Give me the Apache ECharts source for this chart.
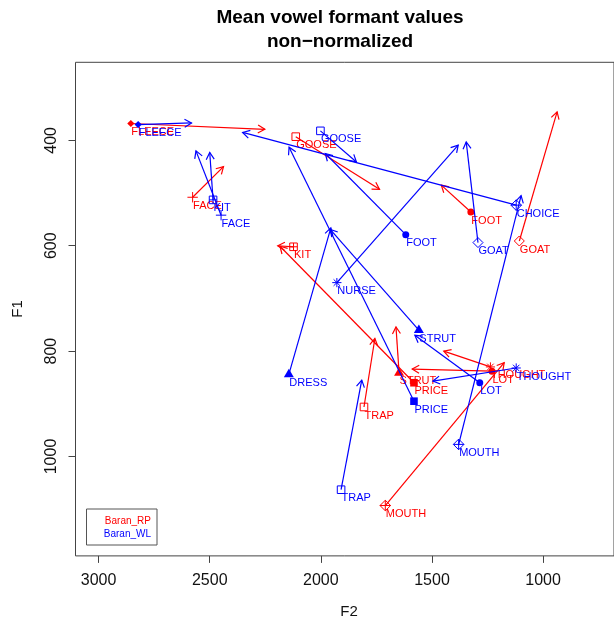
<!DOCTYPE html>
<html><head><meta charset="utf-8">
<script src="https://cdn.jsdelivr.net/npm/echarts@6/dist/echarts.min.js"></script>
<style>html,body{margin:0;padding:0;background:#fff}#c{width:614px;height:620px}</style>
</head><body><div id="c"></div>
<script>
// ---- data (F2 / F1 in Hz; start = vowel target, end = arrow head) ----
const vowelsRP   = ['FLEECE','FACE','KIT','GOOSE','FOOT','GOAT','STRUT','PRICE','TRAP','THOUGHT','LOT','MOUTH'];
const f2StartRP  = [2855, 2577, 2123, 2113, 1325, 1107, 1648, 1581, 1806, 1237, 1230, 1710];
const f1StartRP  = [ 368,  508,  602,  393,  536,  591,  841,  860,  906,  830,  838, 1093];
const f2EndRP    = [2252, 2438, 2194, 1736, 1458,  937, 1662, 2184, 1757, 1447, 1589, 1175];
const f1EndRP    = [ 379,  450,  600,  493,  485,  346,  754,  601,  776,  800,  834,  822];

const vowelsWL   = ['FLEECE','FACE','KIT','GOOSE','FOOT','GOAT','CHOICE','NURSE','STRUT','DRESS','PRICE','TRAP','THOUGHT','LOT','MOUTH'];
const f2StartWL  = [2822, 2449, 2485, 2002, 1618, 1293, 1121, 1928, 1559, 2144, 1581, 1909, 1121, 1285, 1380];
const f1StartWL  = [ 370,  542,  513,  382,  579,  594,  523,  670,  760,  844,  895, 1063,  832,  860,  977];
const f2EndWL    = [2582, 2562, 2500, 1840, 1980, 1346, 2352, 1382, 1958, 1955, 2143, 1816, 1496, 1577, 1099];
const f1EndWL    = [ 367,  420,  423,  441,  425,  403,  385,  409,  569,  566,  413,  855,  857,  770,  505];

const speakers   = ['Baran_RP', 'Baran_WL'];
const xTicks     = [1000, 1500, 2000, 2500, 3000];
const yTicks     = [400, 600, 800, 1000];

// ---- styling ----
const FONT = "'Liberation Sans', Arial, Helvetica, sans-serif";
const symbolOf = {FLEECE:'dfill', KIT:'sqplus', FACE:'plus', DRESS:'tri', TRAP:'sq', STRUT:'tri',
  PRICE:'sqfill', LOT:'circ', THOUGHT:'star', CHOICE:'dplus', GOAT:'diam', FOOT:'circ',
  GOOSE:'sq', NURSE:'star', MOUTH:'dplus'};

function line(x1,y1,x2,y2,c,w){return {type:'line',shape:{x1,y1,x2,y2},style:{stroke:c,lineWidth:w||1}};}
function symbolEls(kind,x,y,c){
  const st={stroke:c,lineWidth:1,fill:null}, fl={fill:c};
  let r;
  switch(kind){
    case 'dfill': r=3.6; return [{type:'polygon',shape:{points:[[x,y-r],[x+r,y],[x,y+r],[x-r,y]]},style:fl}];
    case 'sqplus': r=3.8; return [{type:'rect',shape:{x:x-r,y:y-r,width:2*r,height:2*r},style:st},
        line(x-r,y,x+r,y,c),line(x,y-r,x,y+r,c)];
    case 'plus': r=5.2; return [line(x-r,y,x+r,y,c),line(x,y-r,x,y+r,c)];
    case 'tri': return [{type:'polygon',shape:{points:[[x,y-5.5],[x+5,y+3],[x-5,y+3]]},style:fl}];
    case 'sq': r=3.8; return [{type:'rect',shape:{x:x-r,y:y-r,width:2*r,height:2*r},style:st}];
    case 'sqfill': r=3.8; return [{type:'rect',shape:{x:x-r,y:y-r,width:2*r,height:2*r},style:fl}];
    case 'circ': return [{type:'circle',shape:{cx:x,cy:y,r:3.5},style:fl}];
    case 'star': r=4.6; {const d=r*0.707; return [line(x-r,y,x+r,y,c),line(x,y-r,x,y+r,c),
        line(x-d,y-d,x+d,y+d,c),line(x-d,y+d,x+d,y-d,c)];}
    case 'dplus': r=5.3; return [{type:'polygon',shape:{points:[[x,y-r],[x+r,y],[x,y+r],[x-r,y]]},style:st},
        line(x-r,y,x+r,y,c),line(x,y-r,x,y+r,c)];
    case 'diam': r=5; return [{type:'polygon',shape:{points:[[x,y-r],[x+r,y],[x,y+r],[x-r,y]]},style:st}];
  }
  return [];
}

function makeRender(names, color){
  return function(params, api){
    const p1 = api.coord([api.value(0), api.value(1)]);
    const p2 = api.coord([api.value(2), api.value(3)]);
    const kids = [];
    kids.push(line(p1[0],p1[1],p2[0],p2[1],color,1.2));
    const a = Math.atan2(p2[1]-p1[1], p2[0]-p1[0]), L = 8, h = Math.PI/6;
    kids.push({type:'polyline',shape:{points:[
      [p2[0]-L*Math.cos(a-h), p2[1]-L*Math.sin(a-h)], [p2[0],p2[1]],
      [p2[0]-L*Math.cos(a+h), p2[1]-L*Math.sin(a+h)]]},style:{stroke:color,lineWidth:1.2,fill:null}});
    const name = names[params.dataIndex];
    symbolEls(symbolOf[name], p1[0], p1[1], color).forEach(e=>kids.push(e));
    kids.push({type:'text',x:p1[0]+0.5,y:p1[1]+8.5,style:{text:name,fill:color,
      font:'11px '+FONT, align:'left', verticalAlign:'middle'}});
    return {type:'group',children:kids};
  };
}

function rows(a,b,c,d){return a.map((v,i)=>[v,b[i],c[i],d[i]]);}

const chart = echarts.init(document.getElementById('c'), null, {renderer:'canvas'});
chart.setOption({
  animation:false,
  backgroundColor:'#fff',
  grid:{left:75.5, top:62.3, bottom:64.1, right:-8, show:true, borderColor:'#444', borderWidth:1, backgroundColor:'transparent'},
  xAxis:{type:'value', inverse:true, min:681, max:3104, splitLine:{show:false},
    axisLine:{show:false},
    axisTick:{show:true, customValues:xTicks, length:7, lineStyle:{color:'#444'}},
    axisLabel:{customValues:xTicks, formatter:v=>String(v), color:'#111', fontSize:16, fontFamily:FONT, margin:17}},
  yAxis:{type:'value', inverse:true, min:251.9, max:1188.6, splitLine:{show:false},
    axisLine:{show:false},
    axisTick:{show:true, customValues:yTicks, length:7, lineStyle:{color:'#444'}},
    axisLabel:{customValues:yTicks, formatter:v=>String(v), color:'#111', fontSize:16, fontFamily:FONT, rotate:90, margin:16}},
  series:[
    {type:'custom', name:speakers[0], renderItem:makeRender(vowelsRP,'#FF0000'),
      encode:{x:[0,2], y:[1,3]}, data:rows(f2StartRP,f1StartRP,f2EndRP,f1EndRP), clip:false},
    {type:'custom', name:speakers[1], renderItem:makeRender(vowelsWL,'#0000FF'),
      encode:{x:[0,2], y:[1,3]}, data:rows(f2StartWL,f1StartWL,f2EndWL,f1EndWL), clip:false}
  ],
  graphic:[
    {type:'text', x:340, y:18, style:{text:'Mean vowel formant values', font:'bold 19px '+FONT, fill:'#000', align:'center', verticalAlign:'middle'}},
    {type:'text', x:340, y:42, style:{text:'non\u2212normalized', font:'bold 19px '+FONT, fill:'#000', align:'center', verticalAlign:'middle'}},
    {type:'text', x:349, y:612, style:{text:'F2', font:'15px '+FONT, fill:'#111', align:'center', verticalAlign:'middle'}},
    {type:'text', x:18, y:309, rotation:Math.PI/2, style:{text:'F1', font:'15px '+FONT, fill:'#111', align:'center', verticalAlign:'middle'}},
    {type:'rect', shape:{x:86.5, y:509, width:70.5, height:36}, style:{fill:'#fff', stroke:'#555', lineWidth:1}},
    {type:'text', x:151, y:521.5, style:{text:speakers[0], font:'10px '+FONT, fill:'#FF0000', align:'right', verticalAlign:'middle'}},
    {type:'text', x:151, y:534, style:{text:speakers[1], font:'10px '+FONT, fill:'#0000FF', align:'right', verticalAlign:'middle'}}
  ]
});
</script></body></html>
